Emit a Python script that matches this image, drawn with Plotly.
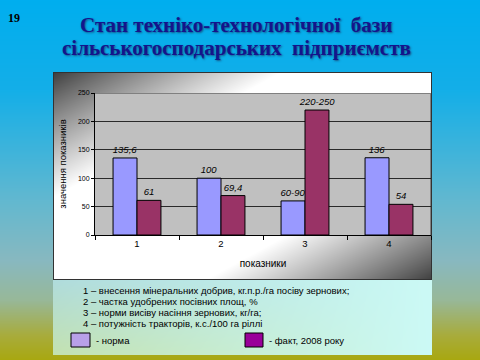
import base64, struct, zlib
import numpy as np
import plotly.graph_objects as go

# ---- data ----
categories = ["1", "2", "3", "4"]
norma = [135.6, 100, 60, 136]
fact = [61, 69.4, 220, 54]
norma_labels = ["135,6", "100", "60-90", "136"]
fact_labels = ["61", "69,4", "220-250", "54"]
notes = [
    "1 – внесення мінеральних добрив, кг.п.р./га посіву зернових;",
    "2 – частка удобрених посівних площ, %",
    "3 – норми висіву насіння зернових, кг/га;",
    "4 – потужність тракторів, к.с./100 га ріллі",
]
legend_names = ["- норма", "- факт, 2008 року"]

W, H = 480, 360
PL, PR, PT, PB = 95, 431, 93, 235  # plot area in px


def px(x):
    return (x - PL) / (PR - PL)


def py(y):
    return (PB - y) / (PB - PT)


# ---- background image (gradients) ----
yy, xx = np.mgrid[0:H, 0:W].astype(float)
stops_y = [0, 90, 200, 260, 300, 335, 360]
stops_c = [(0, 174, 239), (20, 175, 232), (98, 184, 208), (136, 184, 192),
           (152, 184, 152), (168, 172, 60), (168, 168, 16)]
img = np.zeros((H, W, 3))
for ch in range(3):
    img[..., ch] = np.interp(yy, stops_y, [c[ch] for c in stops_c])

# chart area
cx0, cx1, cy0, cy1 = 53, 432, 72, 280
m = (xx >= cx0) & (xx < cx1) & (yy >= cy0) & (yy < cy1)
t = ((xx - cx0) / (cx1 - cx0) + (yy - cy0) / (cy1 - cy0)) / 2
d = 1 - np.abs(2 * t - 1)
v = 60 + 195 * np.clip(d / 0.6, 0, 1) ** 0.9
for ch in range(3):
    img[..., ch] = np.where(m, v, img[..., ch])
bm = m & ((xx == cx0) | (xx == cx1 - 1) | (yy == cy0) | (yy == cy1 - 1))
img[bm] = (50, 50, 50)

# legend box
lx0, lx1, ly0, ly1 = 53, 432, 280, 355
m2 = (xx >= lx0) & (xx < lx1) & (yy >= ly0) & (yy < ly1)
fx = np.clip((xx - lx0) / (lx1 - lx0), 0, 1)
fy = np.clip((yy - ly0) / (ly1 - ly0), 0, 1)
lt, lb, rc = np.array((176, 220, 220)), np.array((196, 226, 176)), np.array((204, 250, 246))
for ch in range(3):
    left = lt[ch] * (1 - fy) + lb[ch] * fy
    col = left * (1 - fx) + rc[ch] * fx
    img[..., ch] = np.where(m2, col, img[..., ch])

# plot area
m3 = (xx >= PL) & (xx < PR) & (yy >= PT) & (yy < PB)
img[m3] = (192, 192, 192)
img[(yy == PT) & (xx >= PL) & (xx < PR)] = (128, 128, 128)
img[(xx == PR - 1) & (yy >= PT) & (yy < PB)] = (128, 128, 128)

img = np.clip(img, 0, 255).astype(np.uint8)


def to_png(a):
    h, w, _ = a.shape
    raw = b"".join(b"\x00" + a[r].tobytes() for r in range(h))

    def chunk(tag, data):
        c = struct.pack(">I", len(data)) + tag + data
        return c + struct.pack(">I", zlib.crc32(tag + data) & 0xFFFFFFFF)

    png = b"\x89PNG\r\n\x1a\n" + chunk(b"IHDR", struct.pack(">IIBBBBB", w, h, 8, 2, 0, 0, 0))
    png += chunk(b"IDAT", zlib.compress(raw, 9)) + chunk(b"IEND", b"")
    return "data:image/png;base64," + base64.b64encode(png).decode()


bg_uri = to_png(img)

SERIF = "Liberation Serif, Times New Roman, DejaVu Serif, serif"

# ---- figure ----
fig = go.Figure()
fig.add_trace(go.Bar(x=categories, y=norma, name=legend_names[0], marker_color="#9999FF",
                     marker_line=dict(color="black", width=1), text=norma_labels))
fig.add_trace(go.Bar(x=categories, y=fact, name=legend_names[1], marker_color="#993366",
                     marker_line=dict(color="black", width=1), text=fact_labels))

fig.update_traces(texttemplate="<i>%{text}</i>", textposition="outside", cliponaxis=False,
                  constraintext="none",
                  textfont=dict(family="Liberation Sans", size=9.5, color="black"))

fig.update_layout(
    width=W, height=H,
    margin=dict(l=PL, r=W - PR, t=PT, b=H - PB),
    paper_bgcolor="#00AEEF", plot_bgcolor="rgba(0,0,0,0)",
    showlegend=False, barmode="group", bargap=0.43, bargroupgap=0,
    font=dict(family="Liberation Sans", color="black"),
    images=[dict(source=bg_uri, xref="paper", yref="paper", x=px(0), y=py(0),
                 sizex=W / (PR - PL), sizey=H / (PB - PT), xanchor="left", yanchor="top",
                 sizing="stretch", layer="below")],
    xaxis=dict(showline=True, linecolor="black", linewidth=1, ticks="outside",
               tickson="boundaries", ticklen=4, tickcolor="black",
               tickfont=dict(size=9.5), showgrid=False,
               title=dict(text="показники", font=dict(size=10), standoff=11)),
    yaxis=dict(range=[0, 250], dtick=50, showline=True, linecolor="black", linewidth=1,
               ticks="outside", ticklen=3, tickcolor="black", tickfont=dict(size=7),
               gridcolor="#2a2a2a", gridwidth=1, zeroline=False,
               title=dict(text="значення показників", font=dict(size=9.5), standoff=9)),
)

ann = []
title_lines = ["Стан техніко-технологічної  бази", "сільськогосподарських  підприємств"]
for i, line in enumerate(title_lines):
    yc = 25 + i * 23
    ann.append(dict(text=line, x=px(236), y=py(yc), xref="paper", yref="paper",
                    xanchor="center", yanchor="middle", showarrow=False,
                    font=dict(family=SERIF, size=21, color="#14148C", weight="bold",
                              shadow="1px 1px 2px rgba(30,30,70,0.6)")))
ann.append(dict(text="19", x=px(6), y=py(18), xref="paper", yref="paper",
                xanchor="left", yanchor="middle", showarrow=False,
                font=dict(family=SERIF, size=12, color="black", weight="bold")))
for i, n in enumerate(notes):
    ann.append(dict(text=n, x=px(81), y=py(290 + i * 11), xref="paper", yref="paper",
                    xanchor="left", yanchor="middle", showarrow=False,
                    font=dict(size=9.5, color="black")))
ann.append(dict(text=legend_names[0], x=px(94), y=py(340), xref="paper", yref="paper",
                xanchor="left", yanchor="middle", showarrow=False,
                font=dict(size=9.5, color="black")))
ann.append(dict(text=legend_names[1], x=px(267), y=py(340), xref="paper", yref="paper",
                xanchor="left", yanchor="middle", showarrow=False,
                font=dict(size=9.5, color="black")))
fig.update_layout(annotations=ann)

fig.update_layout(shapes=[
    dict(type="rect", xref="paper", yref="paper", x0=px(71), x1=px(90), y0=py(333), y1=py(347),
         fillcolor="#B8A0E8", line=dict(color="black", width=1)),
    dict(type="rect", xref="paper", yref="paper", x0=px(245), x1=px(263), y0=py(333), y1=py(347),
         fillcolor="#990099", line=dict(color="black", width=1)),
])

fig.write_html("out.html", config={"displayModeBar": False},
               post_script="document.body.style.margin='0';")
